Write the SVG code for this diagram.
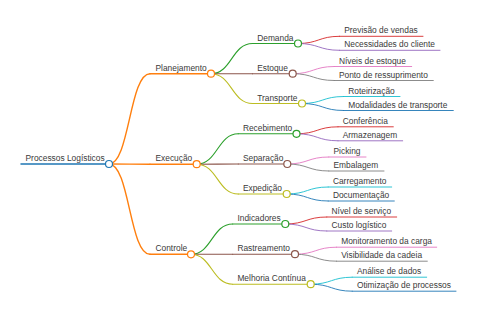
<svg xmlns="http://www.w3.org/2000/svg" width="480" height="320" viewBox="0 0 480 320">
<style>
text{font-family:"Liberation Sans",Arial,sans-serif;font-size:8.4px;fill:#3a3a3a}
path{fill:none;stroke-linecap:round}
circle{fill:#fff;stroke-width:1.2}
.l0{stroke-width:1.5}
.l1{stroke-width:1.4}
.l2{stroke-width:1.1}
.l3{stroke-width:0.9}
.c-blue{stroke:#1f77b4}.c-orange{stroke:#ff7f0e}.c-green{stroke:#2ca02c}.c-red{stroke:#d62728}.c-purple{stroke:#9467bd}
.c-brown{stroke:#8c564b}.c-pink{stroke:#e377c2}.c-gray{stroke:#7f7f7f}.c-olive{stroke:#bcbd22}.c-cyan{stroke:#17becf}
</style>
<rect width="480" height="320" fill="#fff"/>
<g id="connectors">
<path class="l1 c-orange" d="M109,164 C129.5,164 129.5,73.7 150,73.7"/>
<path class="l1 c-orange" d="M109,164 C129.5,164 129.5,164.2 150,164.2"/>
<path class="l1 c-orange" d="M109,164 C129.5,164 129.5,254.3 150,254.3"/>
<path class="l2 c-green" d="M211,73.7 C231.75,73.7 231.75,43.5 252.5,43.5"/>
<path class="l2 c-brown" d="M211,73.7 C231.75,73.7 231.75,73.7 252.5,73.7"/>
<path class="l2 c-olive" d="M211,73.7 C231.75,73.7 231.75,103.5 252.5,103.5"/>
<path class="l2 c-green" d="M196.7,164.2 C217.5,164.2 217.5,133.8 238.3,133.8"/>
<path class="l2 c-brown" d="M196.7,164.2 C217.5,164.2 217.5,164 238.3,164"/>
<path class="l2 c-olive" d="M196.7,164.2 C217.5,164.2 217.5,194 238.3,194"/>
<path class="l2 c-green" d="M191,254.3 C211.85,254.3 211.85,224 232.7,224"/>
<path class="l2 c-brown" d="M191,254.3 C211.85,254.3 211.85,254.2 232.7,254.2"/>
<path class="l2 c-olive" d="M191,254.3 C211.85,254.3 211.85,284.2 232.7,284.2"/>
<path class="l3 c-red" d="M298,43.5 C318.75,43.5 318.75,36.3 339.5,36.3"/>
<path class="l3 c-purple" d="M298,43.5 C318.75,43.5 318.75,50.3 339.5,50.3"/>
<path class="l3 c-pink" d="M292.7,73.7 C313.45,73.7 313.45,66.5 334.2,66.5"/>
<path class="l3 c-gray" d="M292.7,73.7 C313.45,73.7 313.45,80.5 334.2,80.5"/>
<path class="l3 c-cyan" d="M302,103.5 C322.75,103.5 322.75,96.5 343.5,96.5"/>
<path class="l3 c-blue" d="M302,103.5 C322.75,103.5 322.75,110.5 343.5,110.5"/>
<path class="l3 c-red" d="M296.5,133.8 C317.25,133.8 317.25,126.8 338,126.8"/>
<path class="l3 c-purple" d="M296.5,133.8 C317.25,133.8 317.25,140.8 338,140.8"/>
<path class="l3 c-pink" d="M287.3,164 C308.05,164 308.05,157 328.8,157"/>
<path class="l3 c-gray" d="M287.3,164 C308.05,164 308.05,171 328.8,171"/>
<path class="l3 c-cyan" d="M286.7,194 C307.45,194 307.45,187 328.2,187"/>
<path class="l3 c-blue" d="M286.7,194 C307.45,194 307.45,201 328.2,201"/>
<path class="l3 c-red" d="M285.3,224 C306.05,224 306.05,217 326.8,217"/>
<path class="l3 c-purple" d="M285.3,224 C306.05,224 306.05,231 326.8,231"/>
<path class="l3 c-pink" d="M295,254.2 C315.75,254.2 315.75,247.2 336.5,247.2"/>
<path class="l3 c-gray" d="M295,254.2 C315.75,254.2 315.75,261.2 336.5,261.2"/>
<path class="l3 c-cyan" d="M310.7,284.2 C331.45,284.2 331.45,277.2 352.2,277.2"/>
<path class="l3 c-blue" d="M310.7,284.2 C331.45,284.2 331.45,291.2 352.2,291.2"/>
</g>
<g id="root"><path class="l0 c-blue" d="M21,164 H109"/><text x="25.5" y="161">Processos Logísticos</text><circle class="c-blue" cx="109" cy="164" r="3.5"/></g>
<g id="planejamento"><path class="l1 c-orange" d="M150,73.7 H211"/><text x="155.5" y="70.7">Planejamento</text><circle class="c-orange" cx="211" cy="73.7" r="3.5"/></g>
<g id="execucao"><path class="l1 c-orange" d="M150,164.2 H196.7"/><text x="155.5" y="161.2">Execução</text><circle class="c-orange" cx="196.7" cy="164.2" r="3.5"/></g>
<g id="controle"><path class="l1 c-orange" d="M150,254.3 H191"/><text x="155.5" y="251.3">Controle</text><circle class="c-orange" cx="191" cy="254.3" r="3.5"/></g>
<g id="demanda"><path class="l2 c-green" d="M252.5,43.5 H298"/><text x="257.2" y="40.5">Demanda</text><circle class="c-green" cx="298" cy="43.5" r="3.5"/></g>
<g id="estoque"><path class="l2 c-brown" d="M252.5,73.7 H292.7"/><text x="257.2" y="70.7">Estoque</text><circle class="c-brown" cx="292.7" cy="73.7" r="3.5"/></g>
<g id="transporte"><path class="l2 c-olive" d="M252.5,103.5 H302"/><text x="257.2" y="100.5">Transporte</text><circle class="c-olive" cx="302" cy="103.5" r="3.5"/></g>
<g id="recebimento"><path class="l2 c-green" d="M238.3,133.8 H296.5"/><text x="242.9" y="130.8">Recebimento</text><circle class="c-green" cx="296.5" cy="133.8" r="3.5"/></g>
<g id="separacao"><path class="l2 c-brown" d="M238.3,164 H287.3"/><text x="242.9" y="161">Separação</text><circle class="c-brown" cx="287.3" cy="164" r="3.5"/></g>
<g id="expedicao"><path class="l2 c-olive" d="M238.3,194 H286.7"/><text x="242.9" y="191">Expedição</text><circle class="c-olive" cx="286.7" cy="194" r="3.5"/></g>
<g id="indicadores"><path class="l2 c-green" d="M232.7,224 H285.3"/><text x="237.4" y="221">Indicadores</text><circle class="c-green" cx="285.3" cy="224" r="3.5"/></g>
<g id="rastreamento"><path class="l2 c-brown" d="M232.7,254.2 H295"/><text x="237.4" y="251.2">Rastreamento</text><circle class="c-brown" cx="295" cy="254.2" r="3.5"/></g>
<g id="melhoria"><path class="l2 c-olive" d="M232.7,284.2 H310.7"/><text x="237.4" y="281.2">Melhoria Contínua</text><circle class="c-olive" cx="310.7" cy="284.2" r="3.5"/></g>
<g id="previsao"><path class="l3 c-red" d="M339.5,36.3 H423"/><text x="344.2" y="33.3">Previsão de vendas</text></g>
<g id="necessidades"><path class="l3 c-purple" d="M339.5,50.3 H440"/><text x="344.2" y="47.3">Necessidades do cliente</text></g>
<g id="niveis"><path class="l3 c-pink" d="M334.2,66.5 H411.7"/><text x="338.9" y="63.5">Níveis de estoque</text></g>
<g id="ponto"><path class="l3 c-gray" d="M334.2,80.5 H433.3"/><text x="338.9" y="77.5">Ponto de ressuprimento</text></g>
<g id="roteirizacao"><path class="l3 c-cyan" d="M343.5,96.5 H400"/><text x="348.2" y="93.5">Roteirização</text></g>
<g id="modalidades"><path class="l3 c-blue" d="M343.5,110.5 H453.3"/><text x="348.2" y="107.5">Modalidades de transporte</text></g>
<g id="conferencia"><path class="l3 c-red" d="M338,126.8 H393.3"/><text x="342.7" y="123.8">Conferência</text></g>
<g id="armazenagem"><path class="l3 c-purple" d="M338,140.8 H402.7"/><text x="342.7" y="137.8">Armazenagem</text></g>
<g id="picking"><path class="l3 c-pink" d="M328.8,157 H366"/><text x="333.5" y="154">Picking</text></g>
<g id="embalagem"><path class="l3 c-gray" d="M328.8,171 H384"/><text x="333.5" y="168">Embalagem</text></g>
<g id="carregamento"><path class="l3 c-cyan" d="M328.2,187 H391.7"/><text x="332.9" y="184">Carregamento</text></g>
<g id="documentacao"><path class="l3 c-blue" d="M328.2,201 H394.3"/><text x="332.9" y="198">Documentação</text></g>
<g id="nivel-servico"><path class="l3 c-red" d="M326.8,217 H396.7"/><text x="331.5" y="214">Nível de serviço</text></g>
<g id="custo"><path class="l3 c-purple" d="M326.8,231 H391.7"/><text x="331.5" y="228">Custo logístico</text></g>
<g id="monitoramento"><path class="l3 c-pink" d="M336.5,247.2 H436.7"/><text x="341.2" y="244.2">Monitoramento da carga</text></g>
<g id="visibilidade"><path class="l3 c-gray" d="M336.5,261.2 H427.3"/><text x="341.2" y="258.2">Visibilidade da cadeia</text></g>
<g id="analise"><path class="l3 c-cyan" d="M352.2,277.2 H426.7"/><text x="356.9" y="274.2">Análise de dados</text></g>
<g id="otimizacao"><path class="l3 c-blue" d="M352.2,291.2 H456"/><text x="356.9" y="288.2">Otimização de processos</text></g>
</svg>
